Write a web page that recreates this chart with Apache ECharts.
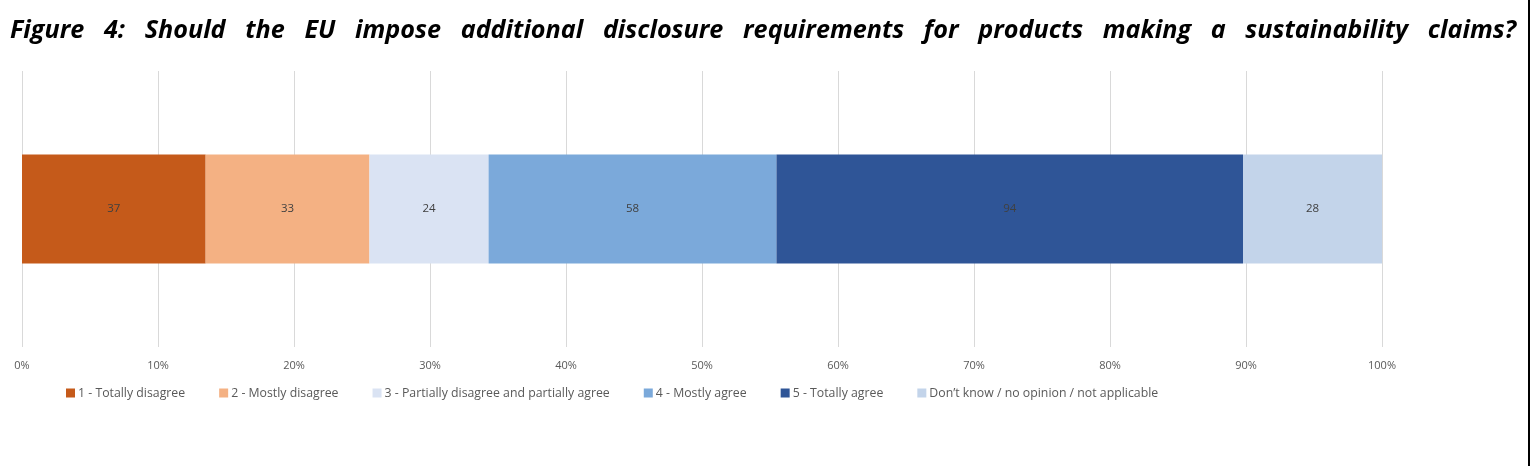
<!DOCTYPE html>
<html>
<head>
<meta charset="utf-8">
<script src="https://cdn.jsdelivr.net/npm/echarts@6/dist/echarts.min.js"></script>
<style>
  html, body { margin: 0; padding: 0; background: #fff; }
  #chart { width: 1530px; height: 466px; border-right: 2px solid #000; box-sizing: border-box; }
</style>
</head>
<body>
<div id="chart"></div>
<script>
const answers = [
  "1 - Totally disagree",
  "2 - Mostly disagree",
  "3 - Partially disagree and partially agree",
  "4 - Mostly agree",
  "5 - Totally agree",
  "Don’t know / no opinion / not applicable",
];
const counts = [37, 33, 24, 58, 94, 28];
const colors = ["#C55A1A", "#F4B183", "#DAE3F3", "#7BA9DA", "#2F5597", "#C3D4EA"];
const xTicks = [0, 10, 20, 30, 40, 50, 60, 70, 80, 90, 100];

const total = counts.reduce((a, b) => a + b, 0);
const titleWords = "Figure 4: Should the EU impose additional disclosure requirements for products making a sustainability claims?".split(" ");

const chart = echarts.init(document.getElementById("chart"));

const option = {
  animation: false,
  title: {
    // the reference title is justified, so words are spread with extra spaces
    text: titleWords.join("   "),
    left: 5,
    top: 13,
    textStyle: {
      fontFamily: "Open Sans",
      fontStyle: "italic",
      fontWeight: "bold",
      fontSize: 25.2,
      color: "#000",
    },
  },
  grid: { left: 22, right: 146, top: 71, bottom: 119 },
  legend: {
    left: 61,
    top: 382,
    itemWidth: 9,
    itemHeight: 9,
    itemGap: 34,
    icon: "rect",
    textStyle: { fontFamily: "Open Sans", fontSize: 12.3, color: "#595959", padding: [0, 0, 0, -2] },
    data: answers,
  },
  xAxis: {
    type: "value",
    min: 0,
    max: 100,
    interval: 10,
    axisLine: { show: false },
    axisTick: { show: false },
    splitLine: { lineStyle: { color: "#D9D9D9", width: 1 } },
    axisLabel: {
      formatter: (v) => (xTicks.includes(v) ? v + "%" : ""),
      color: "#595959",
      fontFamily: "Open Sans",
      fontSize: 11,
      margin: 13,
    },
  },
  yAxis: {
    type: "category",
    data: [""],
    axisLine: { show: false },
    axisTick: { show: false },
    axisLabel: { show: false },
  },
  series: answers.map((name, i) => ({
    name,
    type: "bar",
    stack: "all",
    barWidth: 109,
    data: [{ value: (counts[i] / total) * 100, count: counts[i] }],
    itemStyle: { color: colors[i] },
    label: {
      show: true,
      position: "inside",
      formatter: (p) => p.data.count,
      color: "#404040",
      fontFamily: "Open Sans",
      fontSize: 11.5,
    },
  })),
};

chart.setOption(option);
</script>
</body>
</html>
